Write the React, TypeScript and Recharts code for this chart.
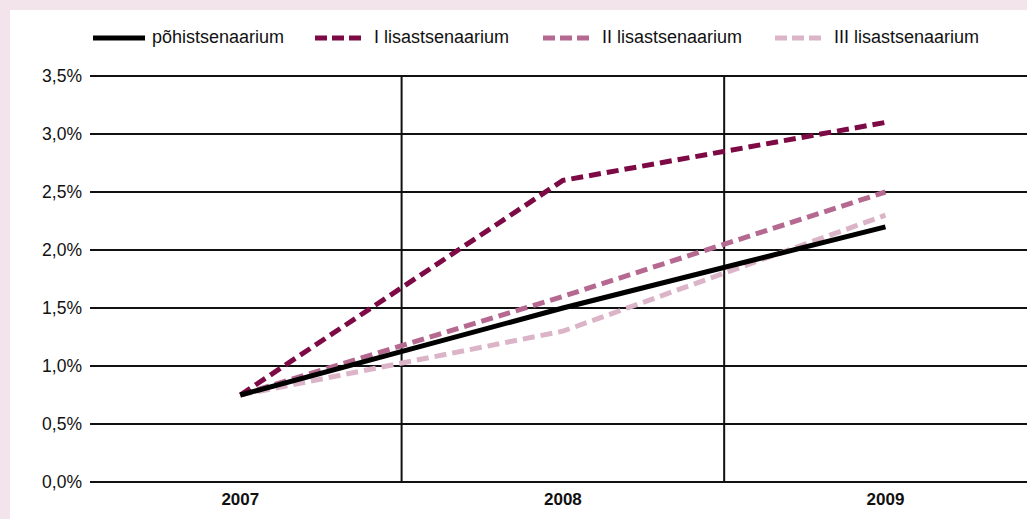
import React from "react";
import { LineChart, Line, XAxis, YAxis, CartesianGrid, ReferenceLine, Legend } from "recharts";

// category labels and series values (percent)
const years = ["2007", "2008", "2009"];
const pohi = [0.75, 1.5, 2.2];
const lisa1 = [0.75, 2.6, 3.1];
const lisa2 = [0.75, 1.6, 2.5];
const lisa3 = [0.75, 1.3, 2.3];
const yTicks = [0, 0.5, 1, 1.5, 2, 2.5, 3, 3.5];

const data = years.map((y, i) => ({
  idx: i,
  year: y,
  pohi: pohi[i],
  lisa1: lisa1[i],
  lisa2: lisa2[i],
  lisa3: lisa3[i],
}));

const SERIES = [
  { key: "pohi", name: "põhistsenaarium", color: "#000000", dash: undefined },
  { key: "lisa1", name: "I lisastsenaarium", color: "#7d0a45", dash: "12 6" },
  { key: "lisa2", name: "II lisastsenaarium", color: "#b56990", dash: "12 6" },
  { key: "lisa3", name: "III lisastsenaarium", color: "#dcb4c8", dash: "12 6" },
];

const LEGEND_LEFT = [93, 315, 543, 775];
const FONT = "'Liberation Sans', Arial, Helvetica, sans-serif";

const pct = (v: number) => v.toFixed(1).replace(".", ",") + "%";

const LegendContent = () => (
  <div style={{ position: "relative", height: 24, fontFamily: FONT, fontSize: 18, color: "#111" }}>
    {SERIES.map((s, i) => (
      <div key={s.key} style={{ position: "absolute", left: LEGEND_LEFT[i], top: 0, display: "flex", alignItems: "center", whiteSpace: "nowrap" }}>
        <svg width={52} height={8} style={{ marginRight: 7 }}>
          <line x1={0} y1={4} x2={s.dash ? 46 : 52} y2={4} stroke={s.color} strokeWidth={5} strokeDasharray={s.dash ? "12 5" : undefined} />
        </svg>
        <span>{s.name}</span>
      </div>
    ))}
  </div>
);

export default function App() {
  return (
    <div style={{ position: "fixed", left: 0, top: 0, width: 1027, height: 519, overflow: "hidden", background: "#f3e4ec" }}>
      <div style={{ position: "absolute", left: 10, top: 10, width: 1100, height: 560, background: "#fff" }} />
      <div style={{ position: "absolute", left: 0, top: 0 }}>
        <LineChart width={1079} height={519} data={data} margin={{ top: 52, right: 0, bottom: 7, left: 0 }}>
          <CartesianGrid vertical={false} stroke="#111" strokeWidth={2} />
          <XAxis
            type="number"
            dataKey="idx"
            domain={[-0.466, 2.6]}
            ticks={[0, 1, 2]}
            tickFormatter={(v: number) => years[v]}
            axisLine={false}
            tickLine={false}
            tickSize={0}
            tickMargin={11}
            height={30}
            tick={{ fill: "#111", fontSize: 17, fontWeight: "bold", fontFamily: FONT }}
            allowDataOverflow
          />
          <YAxis
            domain={[0, 3.5]}
            ticks={yTicks}
            tickFormatter={pct}
            axisLine={false}
            tickLine={false}
            tickSize={0}
            tickMargin={8}
            width={90}
            tick={{ fill: "#111", fontSize: 17.5, fontFamily: FONT }}
          />
          <ReferenceLine x={0.5} stroke="#111" strokeWidth={2} />
          <ReferenceLine x={1.5} stroke="#111" strokeWidth={2} />
          <Legend verticalAlign="top" align="left" content={<LegendContent />} wrapperStyle={{ top: 27, left: 0, width: 1027 }} />
          {[...SERIES].reverse().map((s) => (
            <Line
              key={s.key}
              dataKey={s.key}
              name={s.name}
              stroke={s.color}
              strokeWidth={5}
              strokeDasharray={s.dash}
              dot={false}
              activeDot={false}
              isAnimationActive={false}
              strokeLinecap="butt"
            />
          ))}
        </LineChart>
      </div>
    </div>
  );
}
